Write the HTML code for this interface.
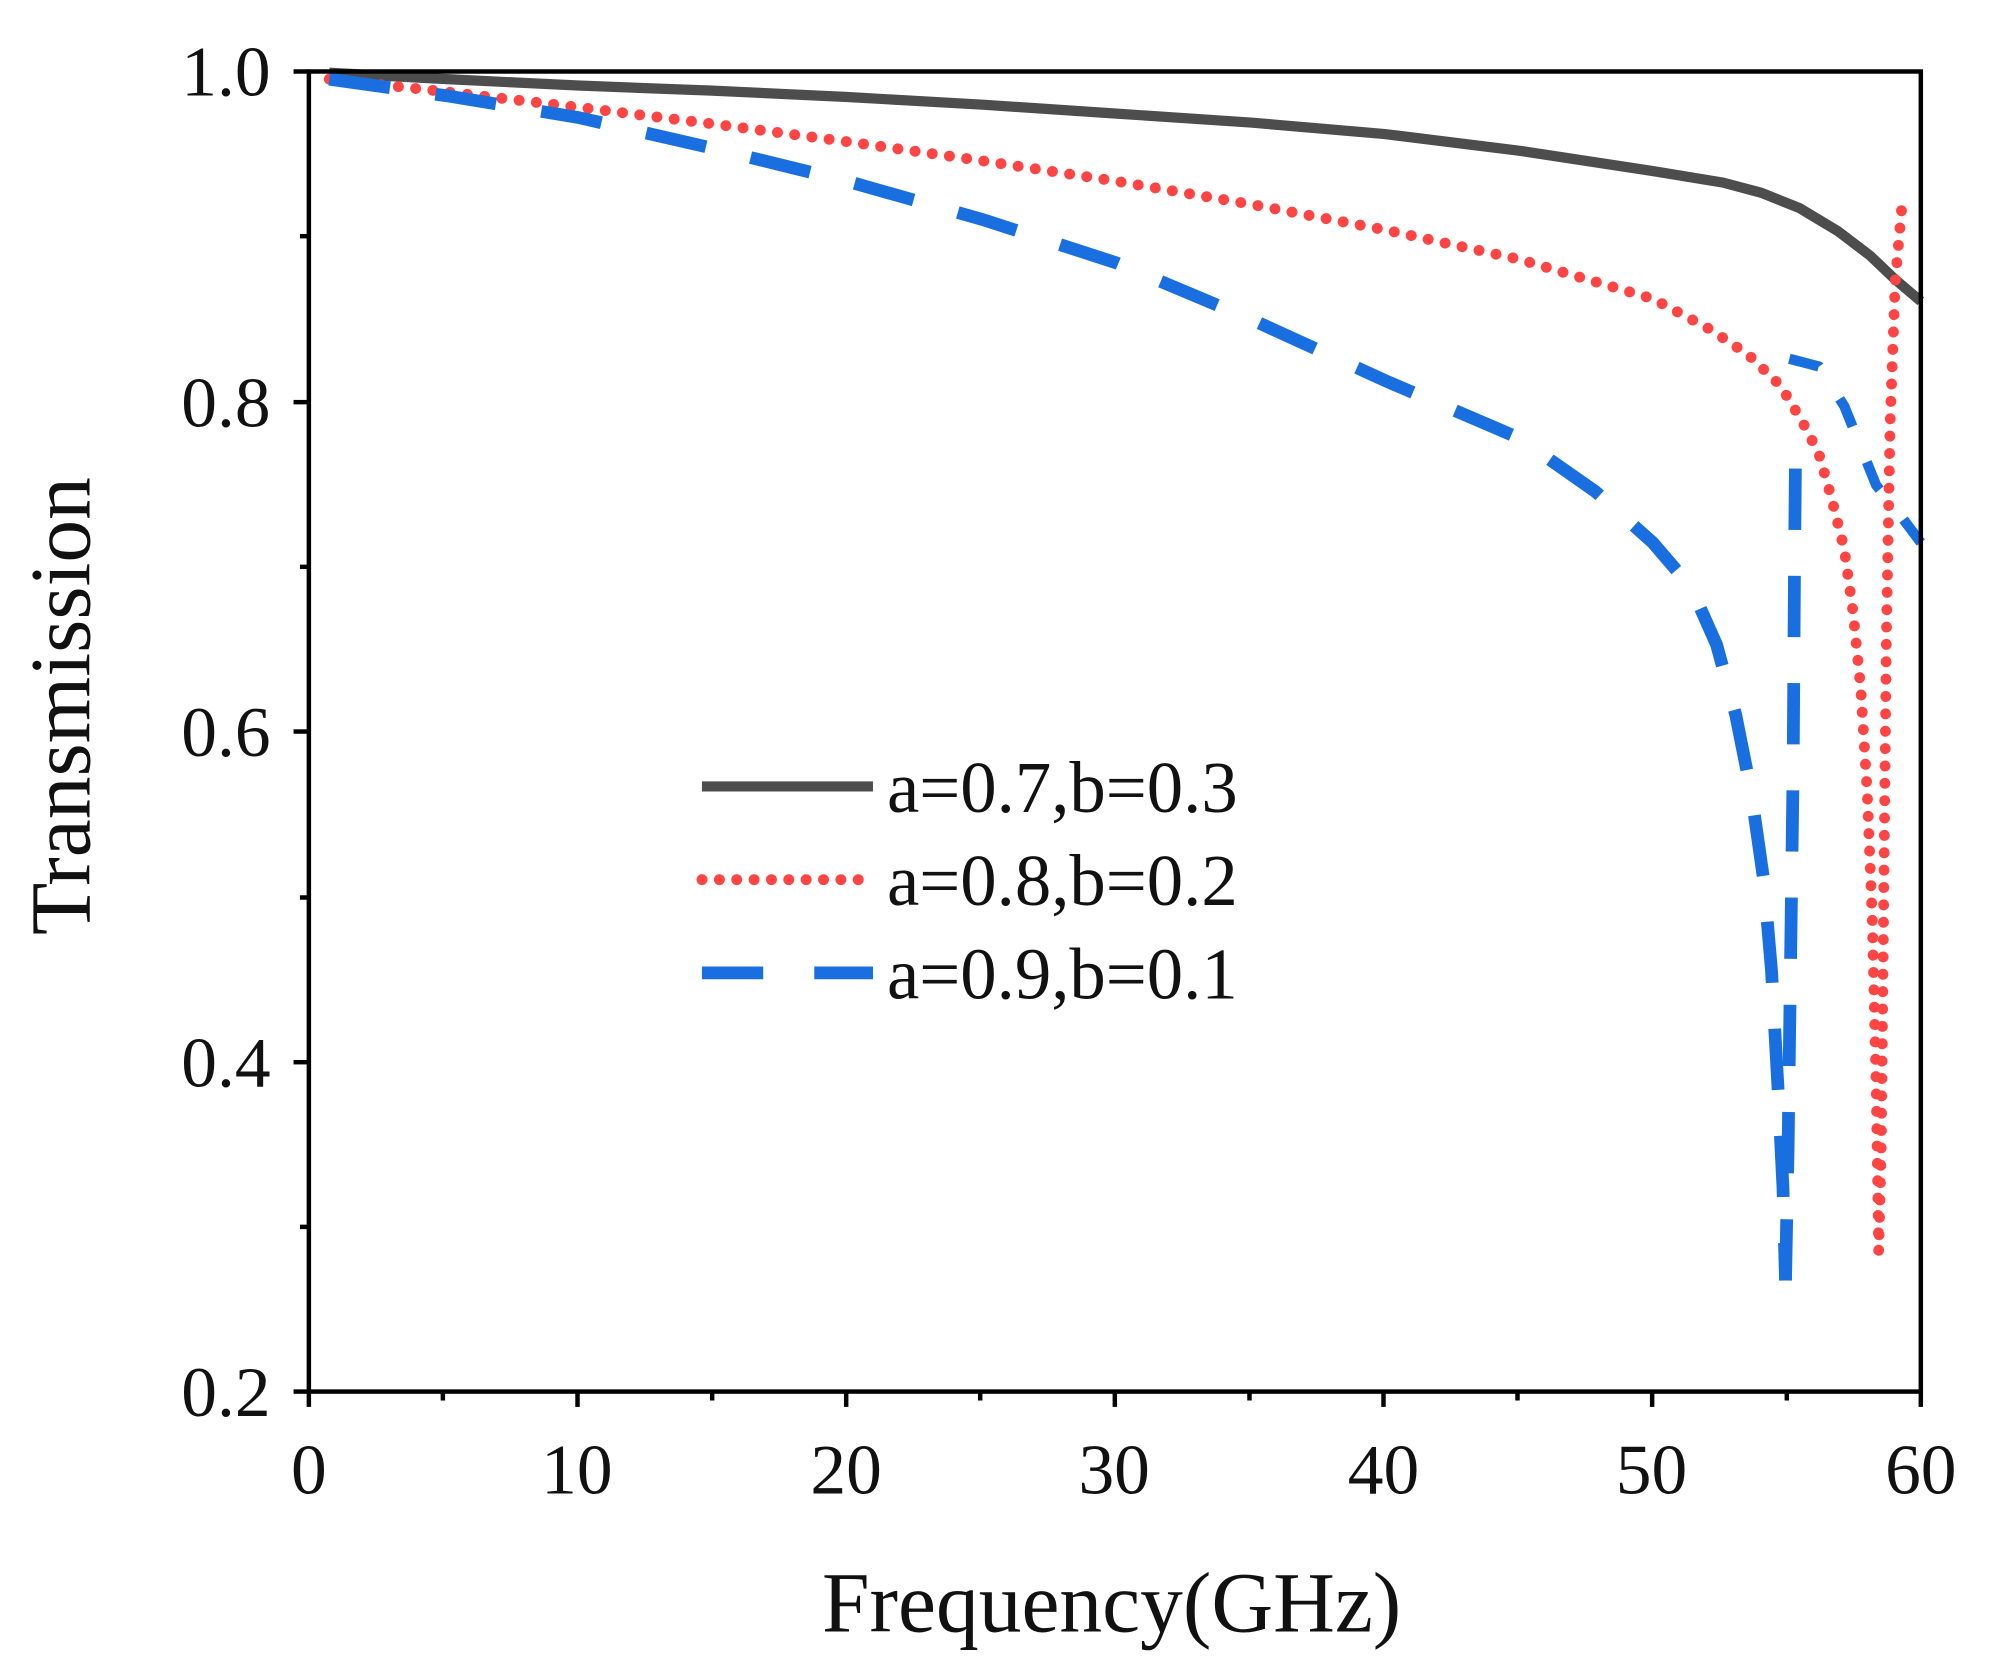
<!DOCTYPE html>
<html><head><meta charset="utf-8"><style>
html,body{margin:0;padding:0;background:#fff;}
svg{display:block;}
text{font-family:"Liberation Serif",serif;fill:#111;}
</style></head><body>
<svg width="1991" height="1675" viewBox="0 0 1560 1312" preserveAspectRatio="none">
<rect width="1560" height="1312" fill="#fff"/>
<!-- series -->
<polyline fill="none" stroke="#4d4d4d" stroke-width="8" points="258,57 350,62 453,67 558,71 664,76 770,82 875,89 980,96 1085,105 1190,118 1295,134 1350,143 1380,151 1410,163 1440,181 1465,200 1485,219 1505,236"/>
<polyline fill="none" stroke="#ff4444" stroke-width="8.5" stroke-linecap="round" stroke-dasharray="0.1 13.5" points="258,62 350,72 453,84 558,97 664,111 770,126 875,142 980,160 1085,180 1190,203 1295,234 1340,258 1370,278 1395,302 1412,330 1425,355 1435,390 1445,430 1452,480 1458,540 1463,620 1467,720 1470,850 1472,980 1474,900 1476,700 1478,500 1481,330 1485,220 1491,152"/>
<polyline fill="none" stroke="#1a6fe0" stroke-width="10" stroke-dasharray="48 36" points="258,62 350,75 453,92 558,116 664,142 770,172 875,206 980,250 1085,298 1190,343 1250,385 1295,425 1325,460 1345,505 1360,560 1372,620 1382,690 1388,760 1393,850 1397,930 1399,1003"/>
<polyline fill="none" stroke="#1a6fe0" stroke-width="10" stroke-dasharray="48 36" points="1399,1003 1401,900 1403,750 1405,600 1406,450 1407,336"/>
<polyline fill="none" stroke="#1a6fe0" stroke-width="8" stroke-dasharray="24 30" points="1402,281 1425,287 1445,318 1470,380 1490,405 1505,425"/>
<!-- axes -->
<rect x="242" y="56" width="1263" height="1034" fill="none" stroke="#000" stroke-width="3.5"/>
<g stroke="#000" stroke-width="3.5">
<line x1="242" y1="1090" x2="242" y2="1102"/><line x1="452.5" y1="1090" x2="452.5" y2="1102"/><line x1="663" y1="1090" x2="663" y2="1102"/><line x1="873.5" y1="1090" x2="873.5" y2="1102"/><line x1="1084" y1="1090" x2="1084" y2="1102"/><line x1="1294.5" y1="1090" x2="1294.5" y2="1102"/><line x1="1505" y1="1090" x2="1505" y2="1102"/>
<line x1="347" y1="1090" x2="347" y2="1097"/><line x1="558" y1="1090" x2="558" y2="1097"/><line x1="768" y1="1090" x2="768" y2="1097"/><line x1="979" y1="1090" x2="979" y2="1097"/><line x1="1189" y1="1090" x2="1189" y2="1097"/><line x1="1400" y1="1090" x2="1400" y2="1097"/>
<line x1="230" y1="56" x2="242" y2="56"/><line x1="230" y1="315" x2="242" y2="315"/><line x1="230" y1="573" x2="242" y2="573"/><line x1="230" y1="832" x2="242" y2="832"/><line x1="230" y1="1090" x2="242" y2="1090"/>
<line x1="235" y1="185" x2="242" y2="185"/><line x1="235" y1="444" x2="242" y2="444"/><line x1="235" y1="703" x2="242" y2="703"/><line x1="235" y1="961" x2="242" y2="961"/>
</g>
<g font-size="56" text-anchor="end">
<text x="212" y="75">1.0</text><text x="212" y="334">0.8</text><text x="212" y="592">0.6</text><text x="212" y="851">0.4</text><text x="212" y="1109">0.2</text>
</g>
<g font-size="56" text-anchor="middle">
<text x="242" y="1170">0</text><text x="452" y="1170">10</text><text x="663" y="1170">20</text><text x="873" y="1170">30</text><text x="1084" y="1170">40</text><text x="1294" y="1170">50</text><text x="1505" y="1170">60</text>
</g>
<text x="871" y="1278" font-size="67" text-anchor="middle">Frequency(GHz)</text>
<text transform="translate(70,553) rotate(-90)" font-size="67" text-anchor="middle">Transmission</text>
<!-- legend -->
<line x1="550" y1="616" x2="684" y2="616" stroke="#4d4d4d" stroke-width="8"/>
<line x1="550" y1="689" x2="684" y2="689" stroke="#ff4444" stroke-width="8.5" stroke-linecap="round" stroke-dasharray="0.1 13.5"/>
<line x1="550" y1="762" x2="684" y2="762" stroke="#1a6fe0" stroke-width="10" stroke-dasharray="48 40"/>
<g font-size="57">
<text x="695" y="636">a=0.7,b=0.3</text><text x="695" y="709">a=0.8,b=0.2</text><text x="695" y="782">a=0.9,b=0.1</text>
</g>
</svg>
</body></html>
